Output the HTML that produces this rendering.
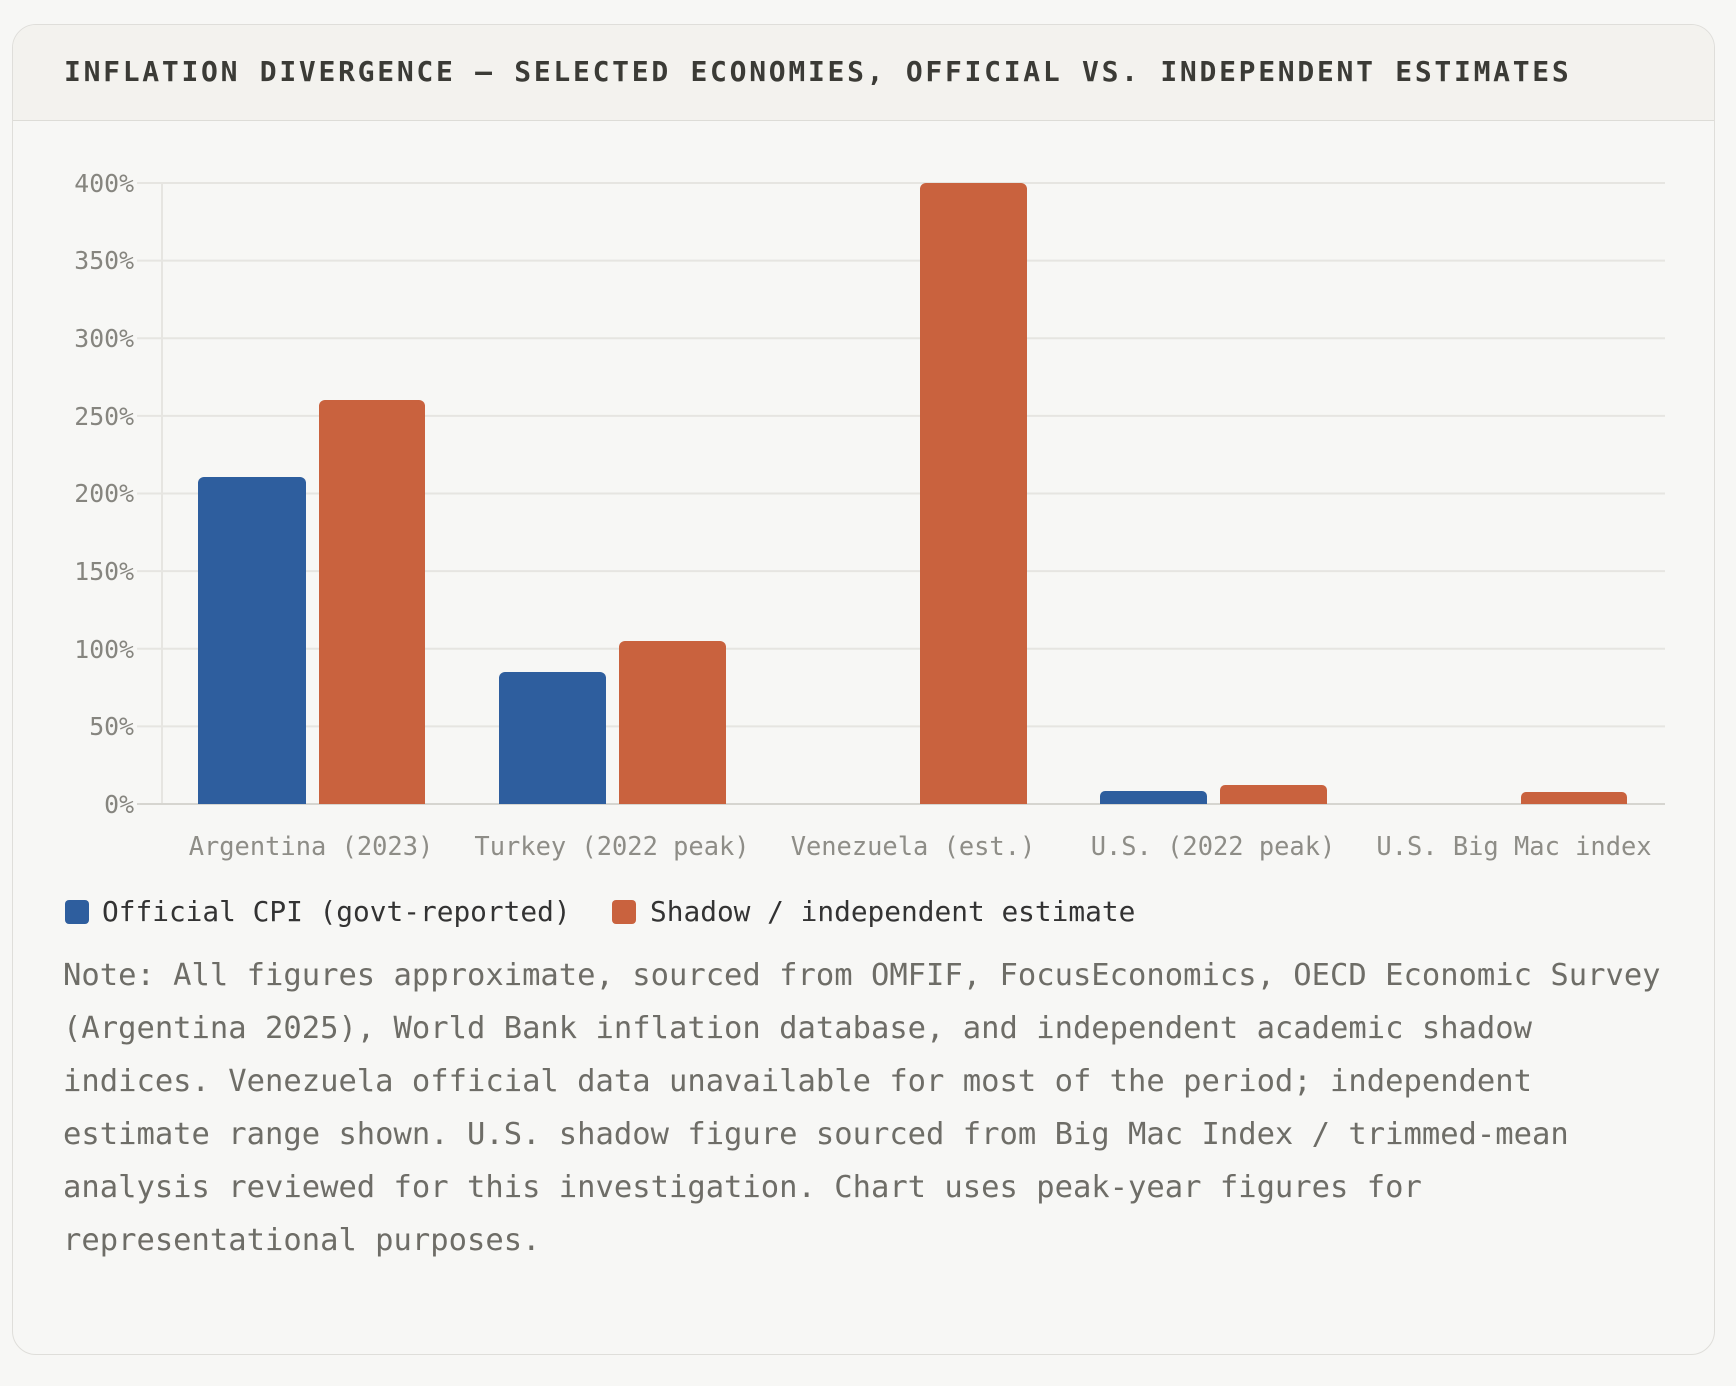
<!DOCTYPE html>
<html><head><meta charset="utf-8"><style>
body{margin:0;width:1736px;height:1386px;background:#f7f7f5;position:relative;overflow:hidden;font-family:"DejaVu Sans Mono","Liberation Mono",monospace}
.card{position:absolute;left:12px;top:24px;width:1701px;height:1329px;border:1.5px solid #dfdeda;border-radius:24px;background:#f7f7f5;overflow:hidden}
.hdr{position:absolute;left:0;top:0;right:0;height:95px;background:#f3f2ee;border-bottom:1.5px solid #dddcd7}
.title{position:absolute;left:51px;top:30px;font-weight:bold;font-size:28px;letter-spacing:2.72px;color:#3b3b36;white-space:nowrap}
.leg{position:absolute;top:895px;font-size:27.8px;color:#333;white-space:nowrap}
.sw{position:absolute;top:900px;width:24px;height:24px;border-radius:4px}
.note{position:absolute;left:63px;top:949px;width:1610px;font-size:30.5px;line-height:53px;color:#6e6d67}
</style></head><body>
<div class="card">
<div class="hdr"><div class="title">INFLATION DIVERGENCE — SELECTED ECONOMIES, OFFICIAL VS. INDEPENDENT ESTIMATES</div></div>
</div>
<svg width="1736" height="1386" style="position:absolute;left:0;top:0">
<g stroke="#e6e5e1" stroke-width="2">
<line x1="137" x2="1665" y1="183" y2="183"/><line x1="137" x2="1665" y1="260.6" y2="260.6"/>
<line x1="137" x2="1665" y1="338.3" y2="338.3"/><line x1="137" x2="1665" y1="415.9" y2="415.9"/>
<line x1="137" x2="1665" y1="493.5" y2="493.5"/><line x1="137" x2="1665" y1="571.1" y2="571.1"/>
<line x1="137" x2="1665" y1="648.8" y2="648.8"/><line x1="137" x2="1665" y1="726.4" y2="726.4"/>
<line x1="162" x2="162" y1="183" y2="804"/>
</g>
<line x1="137" x2="1665" y1="804" y2="804" stroke="#d6d5d0" stroke-width="2"/>
<g font-family="DejaVu Sans Mono, Liberation Mono, monospace" font-size="24.8" fill="#86857f" text-anchor="end">
<text x="134" y="192">400%</text><text x="134" y="269">350%</text><text x="134" y="347">300%</text>
<text x="134" y="425">250%</text><text x="134" y="502">200%</text><text x="134" y="580">150%</text>
<text x="134" y="658">100%</text><text x="134" y="735">50%</text><text x="134" y="813">0%</text>
</g>
<g fill="#2e5e9e">
<path d="M198 804V483a6 6 0 0 1 6-6h96a6 6 0 0 1 6 6V804z"/>
<path d="M499 804V678a6 6 0 0 1 6-6h95a6 6 0 0 1 6 6V804z"/>
<path d="M1100 804V796a5 5 0 0 1 5-5h97a5 5 0 0 1 5 5V804z"/>
</g>
<g fill="#c9623e">
<path d="M319 804V406a6 6 0 0 1 6-6h94a6 6 0 0 1 6 6V804z"/>
<path d="M619 804V647a6 6 0 0 1 6-6h95a6 6 0 0 1 6 6V804z"/>
<path d="M920 804V189a6 6 0 0 1 6-6h95a6 6 0 0 1 6 6V804z"/>
<path d="M1220 804V790a5 5 0 0 1 5-5h97a5 5 0 0 1 5 5V804z"/>
<path d="M1521 804V797a5 5 0 0 1 5-5h96a5 5 0 0 1 5 5V804z"/>
</g>
<g font-family="DejaVu Sans Mono, Liberation Mono, monospace" font-size="25.4" fill="#8e8d87" text-anchor="middle">
<text x="311" y="855">Argentina (2023)</text><text x="612" y="855">Turkey (2022 peak)</text>
<text x="913" y="855">Venezuela (est.)</text><text x="1213" y="855">U.S. (2022 peak)</text>
<text x="1514" y="855">U.S. Big Mac index</text>
</g>
</svg>
<div class="sw" style="left:65px;background:#2e5e9e"></div>
<div class="leg" style="left:102px">Official CPI (govt-reported)</div>
<div class="sw" style="left:612px;background:#c9623e"></div>
<div class="leg" style="left:650px">Shadow / independent estimate</div>
<div class="note">Note: All figures approximate, sourced from OMFIF, FocusEconomics, OECD Economic Survey (Argentina 2025), World Bank inflation database, and independent academic shadow indices. Venezuela official data unavailable for most of the period; independent estimate range shown. U.S. shadow figure sourced from Big Mac Index / trimmed-mean analysis reviewed for this investigation. Chart uses peak-year figures for representational purposes.</div>
</body></html>
